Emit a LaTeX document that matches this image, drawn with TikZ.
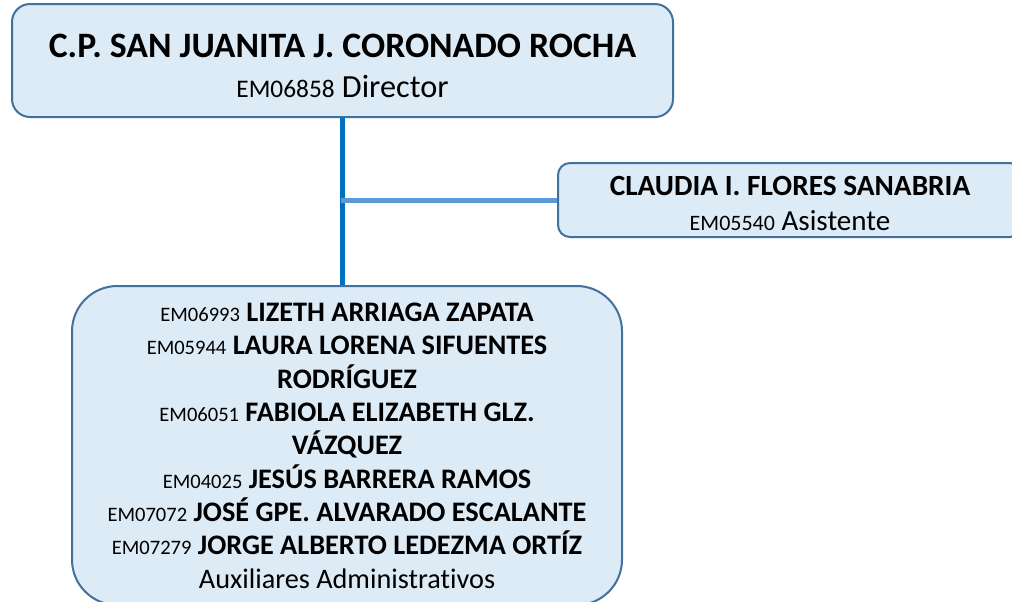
\documentclass[tikz,border=0pt]{standalone}
\usepackage{fontspec}
\setmainfont[Ligatures=NoCommon]{Carlito}
\definecolor{boxfill}{RGB}{221,235,247}
\definecolor{boxline}{RGB}{65,113,156}
\definecolor{mainline}{RGB}{0,112,192}
\definecolor{sideline}{RGB}{91,155,213}
\newcommand{\empcode}[1]{{\fontsize{15.4pt}{25pt}\selectfont #1}}
\tikzset{
  orgbox/.style={draw=boxline, line width=1.5pt, fill=boxfill, inner sep=0pt},
  orgtext/.style={align=center, inner sep=0pt},
  mainlink/.style={draw=mainline, line width=3.75pt},
  sidelink/.style={draw=sideline, line width=3.75pt}
}
\begin{document}
\begin{tikzpicture}[x=0.75pt, y=-0.75pt]
        \useasboundingbox (0,0) rectangle (1012,601);
        \clip (0,0) rectangle (1012,601);
        % boxes
        \node [orgbox, rounded corners=13.5pt, minimum width=495.75pt, minimum height=84.75pt] (director) at (342.5,60.5) {};
        \node [orgbox, rounded corners=9pt, minimum width=348pt, minimum height=55.5pt] (asistente) at (790,200) {};
        \node [orgbox, rounded corners=34pt, minimum width=412.5pt, minimum height=239.25pt] (auxiliares) at (347,445.5) {};
        % texts
        \node [orgtext, font=\fontsize{24.2pt}{30pt}\selectfont] (directortxt) at (342.5,65.5)
               {{\fontsize{26.8pt}{30pt}\selectfont\bfseries C.P. SAN JUANITA J. CORONADO ROCHA}\\
                {\fontsize{19pt}{30pt}\selectfont EM06858} Director};
        \node [orgtext, font=\fontsize{21.8pt}{26.25pt}\selectfont] (asistentetxt) at (790,203)
               {{\fontsize{22pt}{26.25pt}\selectfont\bfseries CLAUDIA I. FLORES SANABRIA}\\
                {\fontsize{16.5pt}{26.25pt}\selectfont EM05540} Asistente};
        \node [orgtext, font=\fontsize{21.2pt}{25pt}\selectfont] (auxiliarestxt) at (347,445.5)
               {\empcode{EM06993} \textbf{LIZETH ARRIAGA ZAPATA}\\
                \empcode{EM05944} \textbf{LAURA LORENA SIFUENTES}\\
                \textbf{RODRÍGUEZ}\\
                \empcode{EM06051} \textbf{FABIOLA ELIZABETH GLZ.}\\
                \textbf{VÁZQUEZ}\\
                \empcode{EM04025} \textbf{JESÚS BARRERA RAMOS}\\
                \empcode{EM07072} \textbf{JOSÉ GPE. ALVARADO ESCALANTE}\\
                \empcode{EM07279} \textbf{JORGE ALBERTO LEDEZMA ORTÍZ}\\
                Auxiliares Administrativos};
        % connectors
        \draw [mainlink] (director.south) -- (director.south |- auxiliares.north);
        \draw [sidelink] (asistente.west) -- ([xshift=-1.5pt]asistente.west -| director.south);
\end{tikzpicture}
\end{document}
